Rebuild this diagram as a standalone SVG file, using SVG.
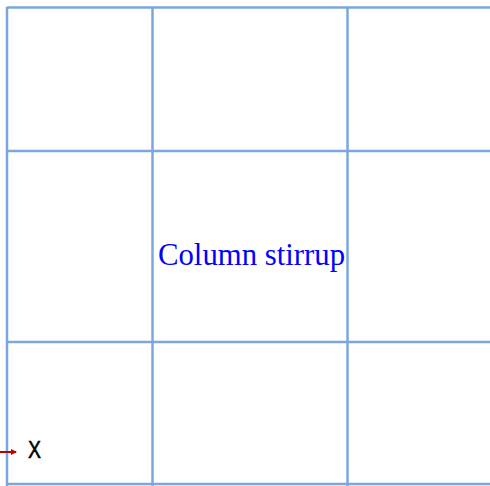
<svg xmlns="http://www.w3.org/2000/svg" width="490" height="486" viewBox="0 0 490 486">
<defs>
<style>
.grid{stroke:#7ba7dc;stroke-width:2.5;fill:none}
.lbl{font-family:"Liberation Serif",serif;font-size:32px;fill:#0000ff}
.ax{font-family:"Liberation Sans",sans-serif;font-size:23px;fill:#000;stroke:#000;stroke-width:0.5}
</style>
<marker id="ah" markerWidth="6" markerHeight="6" refX="5" refY="3" orient="auto" markerUnits="userSpaceOnUse">
<path d="M0,0 L6,3 L0,6 z" fill="#c00000"/>
</marker>
</defs>
<rect width="490" height="486" fill="#fff"/>
<g id="grid">
<line class="grid" x1="7" y1="7.5" x2="490" y2="7.5"/>
<line class="grid" x1="7" y1="151" x2="490" y2="151"/>
<line class="grid" x1="7" y1="342" x2="490" y2="342"/>
<line class="grid" x1="7" y1="484" x2="490" y2="484"/>
<line class="grid" x1="7" y1="7" x2="7" y2="486"/>
<line class="grid" x1="152.5" y1="7" x2="152.5" y2="486"/>
<line class="grid" x1="347.5" y1="7" x2="347.5" y2="486"/>
</g>
<g id="label">
<text class="lbl" x="158" y="265" textLength="187" lengthAdjust="spacingAndGlyphs">Column stirrup</text>
</g>
<g id="axis">
<line x1="0" y1="452" x2="16" y2="452" stroke="#c00000" stroke-width="2" marker-end="url(#ah)"/>
<text class="ax" x="28" y="458" textLength="13" lengthAdjust="spacingAndGlyphs">X</text>
</g>
</svg>
